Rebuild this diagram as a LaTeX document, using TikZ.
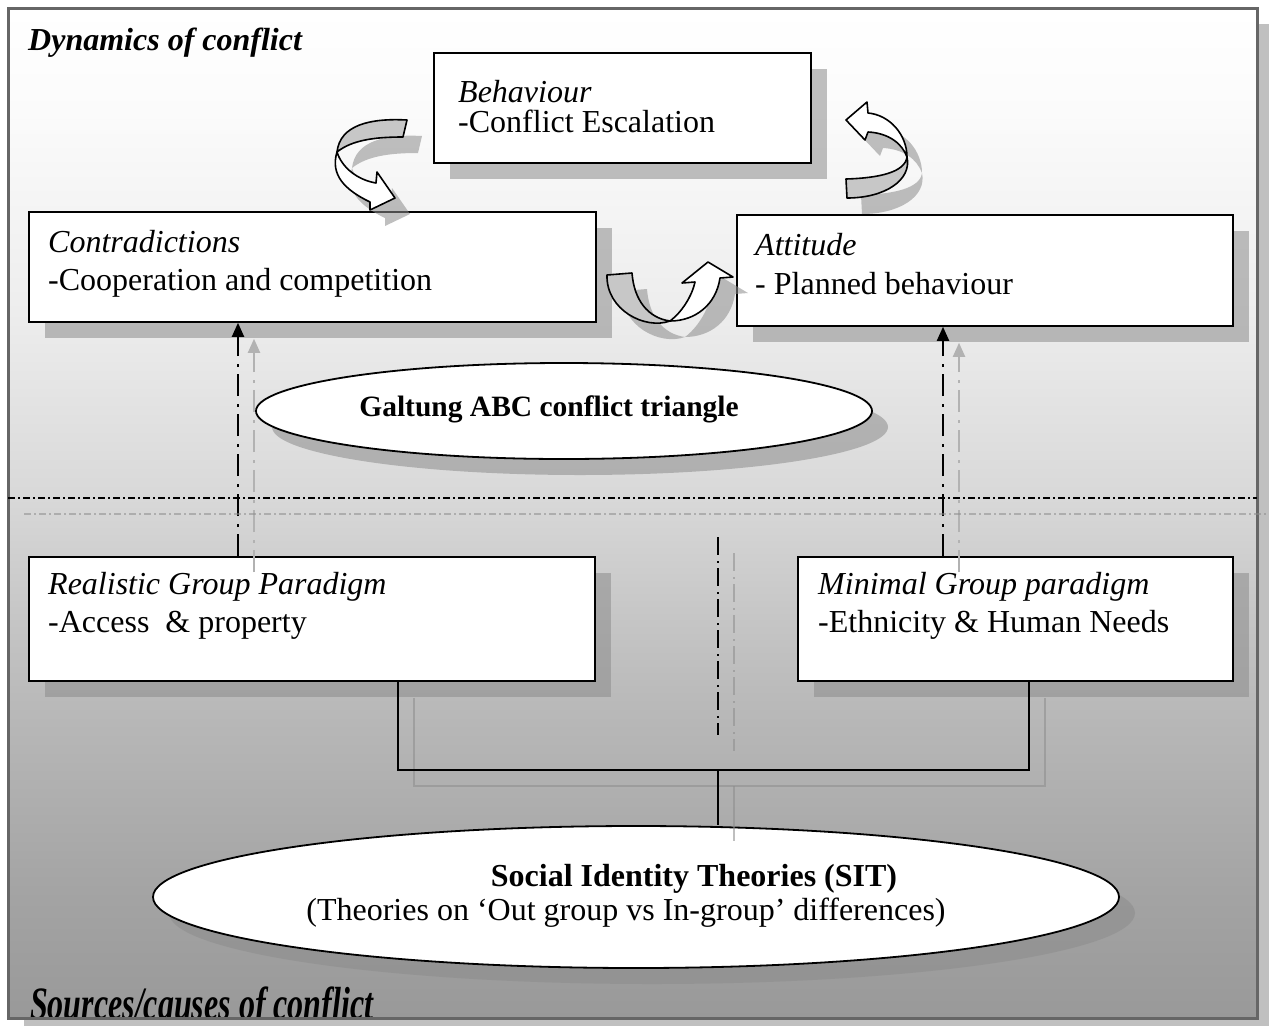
\documentclass[tikz,border=0pt]{standalone}
\usepackage{fontspec}
\usepackage{graphicx}
\setmainfont{Liberation Serif}
\usetikzlibrary{arrows.meta,shapes.geometric,shadows,calc}

% vertical fade of the panel: white at the top, mid grey at the bottom
\pgfdeclareverticalshading{panelshade}{100bp}{%
  color(0bp)=(black!40); color(25bp)=(black!40); color(31bp)=(black!36);
  color(41bp)=(black!27); color(51bp)=(black!15); color(60bp)=(black!7);
  color(70bp)=(black!1.5); color(75bp)=(white); color(100bp)=(white)}

\definecolor{ribbonback}{gray}{0.78}
\definecolor{framegrey}{gray}{0.40}

% outlines of the three ribbon arrows (back face, front face with head)
\def\leftback{(407,120) .. controls (370,118) and (340,125) .. (337,152)
  .. controls (352,140) and (375,137) .. (403,137) -- cycle}
\def\leftfront{(337,152) .. controls (330,175) and (345,190) .. (370,202)
  -- (370,210) -- (395,198) -- (377,172) -- (376,183)
  .. controls (358,180) and (342,168) .. (337,152) -- cycle}
\def\midback{(607,275) -- (632,273)
  .. controls (634,300) and (648,318) .. (670,321)
  .. controls (645,330) and (606,310) .. (607,275) -- cycle}
\def\midfront{(670,321) .. controls (682,312) and (692,296) .. (695,282)
  -- (682,283) -- (708,262) -- (733,277) -- (720,278)
  .. controls (716,305) and (695,321) .. (670,321) -- cycle}
\def\rightfront{(846,120) -- (867,102) -- (868,113)
  .. controls (890,115) and (907,135) .. (907,157)
  .. controls (902,143) and (888,133) .. (868,132) -- (865,140) -- cycle}
\def\rightback{(907,157) .. controls (905,172) and (880,178) .. (846,179)
  -- (847,198) .. controls (885,198) and (912,180) .. (907,157) -- cycle}

\begin{document}
\begin{tikzpicture}[x=1pt,y=-1pt,
  font=\fontsize{32}{38}\selectfont,
  shadowfill/.style={fill=black!45, fill opacity=0.55},
  shadowline/.style={draw=black!45, draw opacity=0.55},
  softshadow/.style={drop shadow={shadow xshift=16pt, shadow yshift=-16pt,
      fill=black!45, opacity=0.55}},
  box/.style={draw, line width=1.8pt, fill=white, anchor=north west,
      inner sep=0pt, softshadow},
  oval/.style={ellipse, draw, line width=1.8pt, fill=white, inner sep=0pt,
      softshadow},
  boxtext/.style={anchor=base west, inner sep=0pt},
  centretext/.style={anchor=base, inner sep=0pt},
  heading/.style={anchor=base west, inner sep=0pt,
      font=\fontsize{32}{38}\selectfont\bfseries\itshape},
  ribbon/.style={draw, line width=1.6pt, line join=round},
  dotdashA/.style={line width=2pt, dash pattern=on 22pt off 7pt on 3pt off 8pt},
  dotdashB/.style={line width=2pt, dash pattern=on 7pt off 3pt on 2pt off 3pt},
  dotdashC/.style={line width=2pt, dash pattern=on 18pt off 6pt on 2pt off 5pt},
  tip/.style={-{Triangle[length=14pt,width=12pt]}},
]
\useasboundingbox (0,0) rectangle (1269,1026);

% panel with its drop shadow and gradient
\fill[shadowfill] (24,24) rectangle (1269,1026);
\shade[shading=panelshade] (8,8) rectangle (1257,1018);

\node[heading] (dyn) at (28,50) {Dynamics of conflict};
\begin{scope}
  \clip (9.5,9.5) rectangle (1255.5,1016.5);
  \node[heading] (src) at (30,1019) {\scalebox{1}[1.45]{Sources/causes of conflict}};
\end{scope}
\draw[draw=framegrey, line width=3pt] (8,8) rectangle (1257,1018);

% boxes
\node[box, minimum width=377pt, minimum height=110pt] (beh) at (433,52) {};
\node[box, minimum width=567pt, minimum height=110pt] (contr) at (28,211) {};
\node[box, minimum width=496pt, minimum height=111pt] (att) at (736,214) {};
\node[box, minimum width=566pt, minimum height=124pt] (real) at (28,556) {};
\node[box, minimum width=435pt, minimum height=124pt] (mini) at (797,556) {};

% ellipses
\node[oval, minimum width=616pt, minimum height=96pt] (abc) at (564,411) {};
\node[oval, minimum width=966pt, minimum height=142pt] (sit) at (636,897) {};

% curved ribbon arrows: shadows first (each ribbon in one fill)
\begin{scope}[xshift=15pt, yshift=-16pt]
  \fill[shadowfill] \leftback \leftfront;
  \fill[shadowfill] \midback \midfront;
  \fill[shadowfill] \rightfront \rightback;
\end{scope}
\path[ribbon, fill=ribbonback] \leftback;
\path[ribbon, fill=white] \leftfront;
\path[ribbon, fill=ribbonback] \midback;
\path[ribbon, fill=white] \midfront;
\path[ribbon, fill=white] \rightfront;
\path[ribbon, fill=ribbonback] \rightback;

% dash-dot arrows from the paradigms up to the triangle corners, with shadows
\coordinate (lx) at (238,0);
\coordinate (rx) at (943,0);
\draw[dotdashA, draw=black!30, tip]
  ($(real.north -| lx)+(16,16)$) -- ($(contr.south -| lx)+(16,16)$);
\draw[dotdashA, draw=black!30, tip]
  ($(mini.north -| rx)+(16,16)$) -- ($(att.south -| rx)+(16,16)$);
\draw[dotdashA, tip] (real.north -| lx) -- (contr.south -| lx);
\draw[dotdashA, tip] (mini.north -| rx) -- (att.south -| rx);

% divider between dynamics and sources
\coordinate (divL) at (8,498);
\coordinate (divR) at (1257,498);
\draw[dotdashB, shadowline] ($(divL)+(16,16)$) -- ($(divR)+(16,16)$);
\draw[dotdashB] (divL) -- (divR);

% centre divider between the two paradigms
\coordinate (midT) at (718,537);
\coordinate (midB) at (718,735);
\draw[dotdashC, shadowline] ($(midT)+(16,16)$) -- ($(midB)+(16,16)$);
\draw[dotdashC] (midT) -- (midB);

% bracket joining both paradigms to the SIT ellipse
\coordinate (brL) at (398,770);
\coordinate (brR) at (1029,770);
\coordinate (stem) at (718,770);
\draw[line width=2pt, shadowline]
  ($(real.south -| brL)+(16,16)$) -- ($(brL)+(16,16)$) -- ($(brR)+(16,16)$)
  -- ($(mini.south -| brR)+(16,16)$);
\draw[line width=2pt, shadowline] ($(stem)+(16,16)$) -- ($(stem |- sit.north)+(16,16)$);
\draw[line width=2pt] (real.south -| brL) -- (brL) -- (brR) -- (mini.south -| brR);
\draw[line width=2pt] (stem) -- (stem |- sit.north);

% texts
\node[boxtext] (behA) at (458,102) {\textit{Behaviour}};
\node[boxtext] (behB) at (458,132) {-Conflict Escalation};
\node[boxtext] (contrA) at (48,252) {\textit{Contradictions}};
\node[boxtext] (contrB) at (48,290) {-Cooperation and competition};
\node[boxtext] (attA) at (755,255) {\textit{Attitude}};
\node[boxtext] (attB) at (755,294) {- Planned behaviour};
\node[boxtext] (realA) at (48,594) {\textit{Realistic Group Paradigm}};
\node[boxtext] (realB) at (48,632) {-Access\ \ \& property};
\node[boxtext] (miniA) at (818,594) {\textit{Minimal Group paradigm}};
\node[boxtext] (miniB) at (818,632) {-Ethnicity \& Human Needs};
\node[centretext, font=\fontsize{29.5}{36}\selectfont\bfseries] (abcT) at (549,416) {Galtung ABC conflict triangle};
\node[centretext, font=\fontsize{32}{38}\selectfont\bfseries] (sitA) at (694,886) {Social Identity Theories (SIT)};
\node[centretext] (sitB) at (626,920) {(Theories on ‘Out group vs In-group’ differences)};
\end{tikzpicture}
\end{document}
